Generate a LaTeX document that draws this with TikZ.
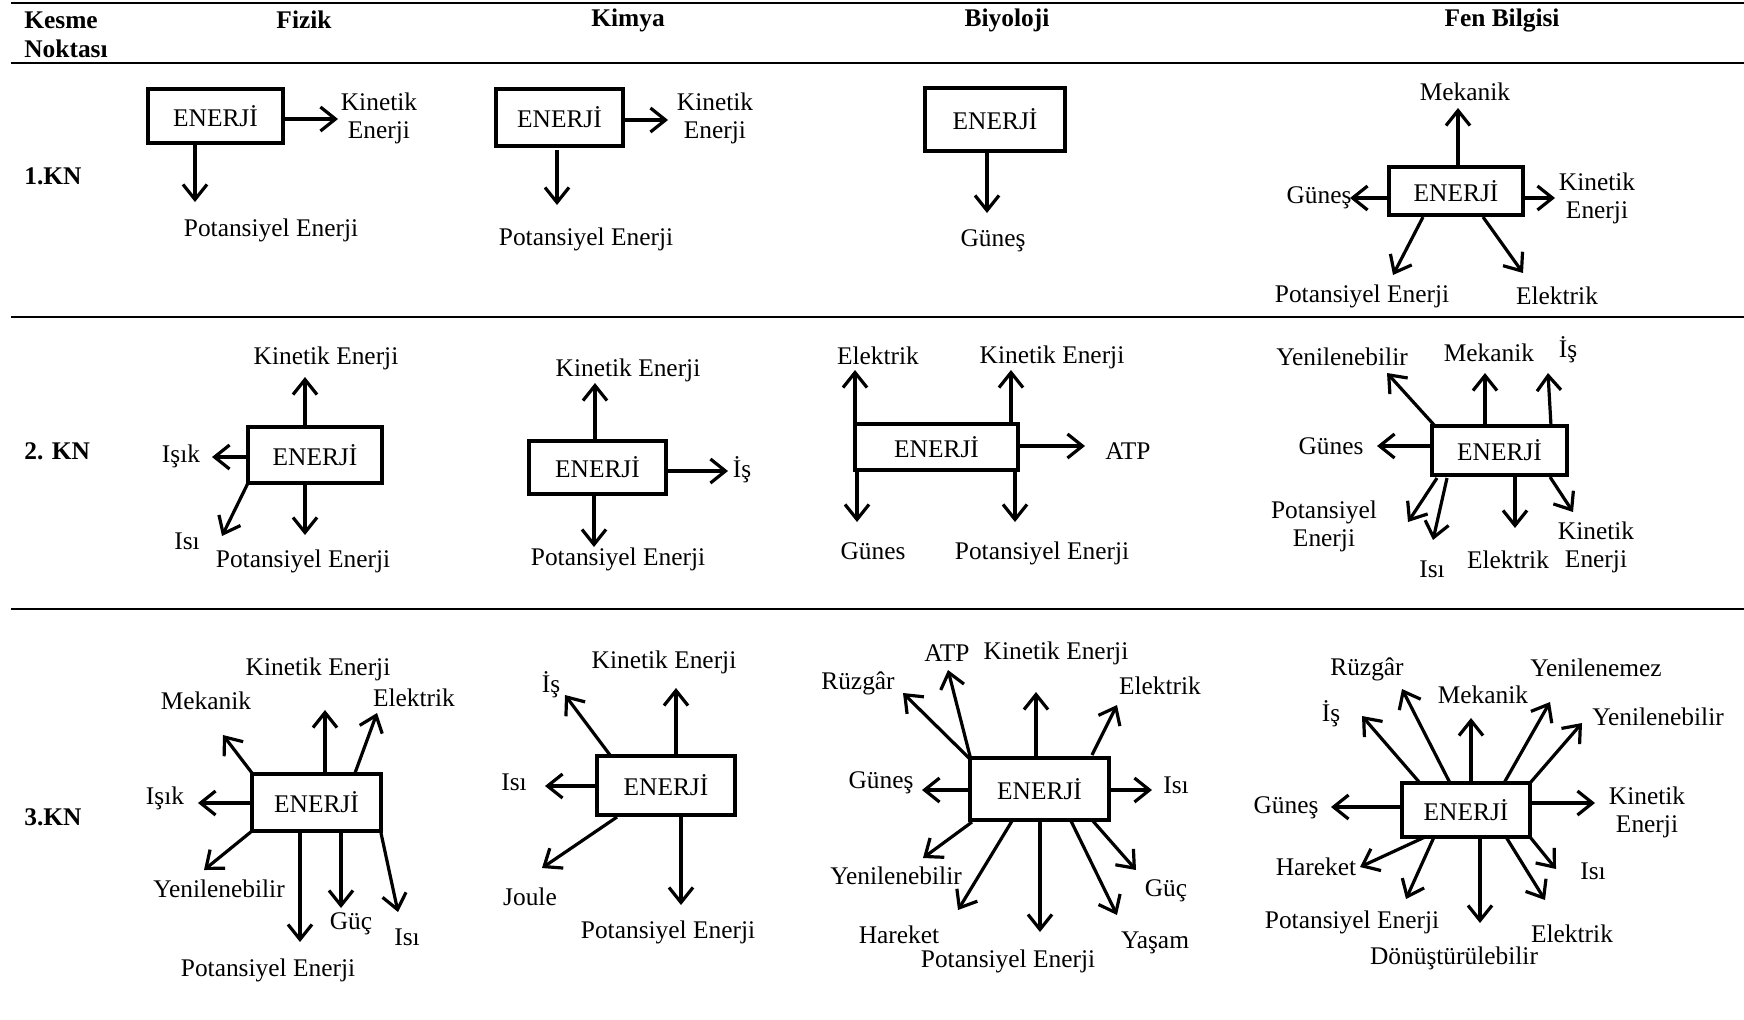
\documentclass[tikz,border=0pt]{standalone}
\usepackage{fontspec}
\setmainfont{Liberation Serif}
\usetikzlibrary{arrows.meta}
\newcommand\AR[3]{\coordinate (#1s) at (#2); \coordinate (#1t) at (#3); \draw[arr] (#1s) -- (#1t);}
\newcommand\EBOX[5]{\node[ebox, minimum width={(#4-#2)*0.5pt}, minimum height={(#5-#3)*0.5pt}] (#1) at ({(#2+#4)/2},{(#3+#5)/2}) {ENERJİ};}
\begin{document}
\begin{tikzpicture}[x=0.5pt,y=-0.5pt,
  every node/.style={font=\fontsize{12.7pt}{14pt}\selectfont, inner sep=1pt},
  lbl/.style={align=center},
  hdr/.style={font=\fontsize{12.7pt}{14pt}\selectfont\bfseries},
  ebox/.style={draw, line width=1.6pt, inner sep=0pt},
  arr/.style={line width=1.6pt, -{Straight Barb[length=7.5pt,width=12pt]}},
  rule/.style={line width=1.3pt},
  thinrule/.style={line width=0.8pt}]
\useasboundingbox (0,0) rectangle (1744,1019);
% rules
\coordinate (r1a) at (11,3); \coordinate (r1b) at (1744,3);
\coordinate (r2a) at (11,63); \coordinate (r2b) at (1744,63);
\coordinate (r3a) at (11,317); \coordinate (r3b) at (1744,317);
\coordinate (r4a) at (11,609); \coordinate (r4b) at (1744,609);
\draw[rule] (r1a) -- (r1b);
\draw[rule] (r2a) -- (r2b);
\draw[rule] (r3a) -- (r3b);
\draw[thinrule] (r4a) -- (r4b);
% header
\node[hdr, anchor=west] (h0a) at (22,20) {Kesme};
\node[hdr, anchor=west] (h0b) at (22,49) {Noktası};
\node[hdr] (h1) at (304,20) {Fizik};
\node[hdr] (h2) at (628,20) {Kimya};
\node[hdr] (h3) at (1007,20) {Biyoloji};
\node[hdr] (h4) at (1502,20) {Fen Bilgisi};
\node[hdr, anchor=west] (k1) at (22,176) {1.KN};
\node[hdr, anchor=west] (k2) at (22,451) {2. KN};
\node[hdr, anchor=west] (k3) at (22,817) {3.KN};

% ===== Row 1 =====
\EBOX{F1}{148}{89}{283}{143}
\AR{f1a}{283,119}{338,119} \node[lbl] (f1la) at (379,118) {Kinetik\\Enerji};
\AR{f1b}{195,143}{195,202} \node[lbl] (f1lb) at (271,230) {Potansiyel Enerji};

\EBOX{K1}{496}{89}{623}{146}
\AR{k1a}{623,120}{668,120} \node[lbl] (k1la) at (715,118) {Kinetik\\Enerji};
\AR{k1b}{557,150}{557,205} \node[lbl] (k1lb) at (586,239) {Potansiyel Enerji};

\EBOX{B1}{925}{88}{1065}{151}
\AR{b1a}{987,151}{987,213} \node[lbl] (b1la) at (993,241) {Güneş};

\EBOX{S1}{1389}{167}{1523}{215}
\AR{s1a}{1458,167}{1458,108} \node[lbl] (s1la) at (1465,92) {Mekanik};
\AR{s1b}{1389,198}{1350,198} \node[lbl] (s1lb) at (1319,198) {Güneş};
\AR{s1c}{1523,198}{1555,198} \node[lbl] (s1lc) at (1597,198) {Kinetik\\Enerji};
\AR{s1d}{1423,217}{1393,275} \node[lbl] (s1ld) at (1362,296) {Potansiyel Enerji};
\AR{s1e}{1483,217}{1523,273} \node[lbl] (s1le) at (1557,296) {Elektrik};

% ===== Row 2 =====
\EBOX{F2}{248}{427}{382}{483}
\AR{f2a}{305,427}{305,377} \node[lbl] (f2la) at (326,358) {Kinetik Enerji};
\AR{f2b}{248,457}{212,457} \node[lbl] (f2lb) at (181,456) {Işık};
\AR{f2c}{248,483}{222,536} \node[lbl] (f2lc) at (187,541) {Isı};
\AR{f2d}{305,483}{305,535} \node[lbl] (f2ld) at (303,561) {Potansiyel Enerji};

\EBOX{K2}{529}{441}{666}{494}
\AR{k2a}{595,441}{595,383} \node[lbl] (k2la) at (628,370) {Kinetik Enerji};
\AR{k2b}{666,471}{728,471} \node[lbl] (k2lb) at (742,470) {İş};
\AR{k2c}{594,494}{594,547} \node[lbl] (k2lc) at (618,559) {Potansiyel Enerji};

\EBOX{B2}{855}{424}{1018}{470}
\AR{b2a}{855,424}{855,370} \node[lbl] (b2la) at (878,356) {Elektrik};
\AR{b2b}{1011,424}{1011,370} \node[lbl] (b2lb) at (1052,357) {Kinetik Enerji};
\AR{b2c}{1018,446}{1085,446} \node[lbl] (b2lc) at (1128,451) {ATP};
\AR{b2d}{857,470}{857,522} \node[lbl] (b2ld) at (873,551) {Günes};
\AR{b2e}{1015,470}{1015,522} \node[lbl] (b2le) at (1042,553) {Potansiyel Enerji};

\EBOX{S2}{1432}{426}{1567}{475}
\AR{s2a}{1435,426}{1387,373} \node[lbl] (s2la) at (1342,357) {Yenilenebilir};
\AR{s2b}{1485,426}{1485,373} \node[lbl] (s2lb) at (1489,353) {Mekanik};
\AR{s2c}{1551,426}{1548,373} \node[lbl] (s2lc) at (1568,350) {İş};
\AR{s2d}{1432,446}{1377,446} \node[lbl] (s2ld) at (1331,446) {Günes};
\AR{s2e}{1437,478}{1408,522} \node[lbl] (s2le) at (1324,526) {Potansiyel\\Enerji};
\AR{s2f}{1447,478}{1433,540} \node[lbl] (s2lf) at (1432,569) {Isı};
\AR{s2g}{1515,475}{1515,528} \node[lbl] (s2lg) at (1508,560) {Elektrik};
\AR{s2h}{1550,477}{1573,512} \node[lbl] (s2lh) at (1596,547) {Kinetik\\Enerji};

% ===== Row 3 =====
\EBOX{F3}{252}{774}{381}{831}
\AR{f3a}{325,774}{325,710} \node[lbl] (f3la) at (318,669) {Kinetik Enerji};
\AR{f3b}{355,773}{377,713} \node[lbl] (f3lb) at (414,698) {Elektrik};
\AR{f3c}{252,773}{223,735} \node[lbl] (f3lc) at (206,701) {Mekanik};
\AR{f3d}{252,803}{198,803} \node[lbl] (f3ld) at (165,798) {Işık};
\AR{f3e}{252,831}{204,870} \node[lbl] (f3le) at (219,889) {Yenilenebilir};
\AR{f3f}{300,831}{300,942} \node[lbl] (f3lf) at (268,970) {Potansiyel Enerji};
\AR{f3g}{341,831}{341,908} \node[lbl] (f3lg) at (351,924) {Güç};
\AR{f3h}{381,833}{398,912} \node[lbl] (f3lh) at (407,937) {Isı};

\EBOX{K3}{597}{756}{735}{815}
\AR{k3a}{676,756}{676,688} \node[lbl] (k3la) at (664,662) {Kinetik Enerji};
\AR{k3b}{610,755}{565,695} \node[lbl] (k3lb) at (551,685) {İş};
\AR{k3c}{597,786}{545,786} \node[lbl] (k3lc) at (514,782) {Isı};
\AR{k3d}{617,817}{542,868} \node[lbl] (k3ld) at (530,897) {Joule};
\AR{k3e}{681,815}{681,905} \node[lbl] (k3le) at (668,932) {Potansiyel Enerji};

\EBOX{B3}{970}{758}{1109}{820}
\AR{b3a}{1036,758}{1036,692} \node[lbl] (b3la) at (1056,653) {Kinetik Enerji};
\AR{b3b}{971,760}{903,693} \node[lbl] (b3lb) at (858,683) {Rüzgâr};
\AR{b3c}{971,760}{948,670} \node[lbl] (b3lc) at (947,653) {ATP};
\AR{b3d}{1092,755}{1117,705} \node[lbl] (b3ld) at (1160,686) {Elektrik};
\AR{b3e}{970,790}{922,790} \node[lbl] (b3le) at (881,783) {Güneş};
\AR{b3f}{1109,790}{1152,790} \node[lbl] (b3lf) at (1176,785) {Isı};
\AR{b3g}{972,822}{923,858} \node[lbl] (b3lg) at (896,876) {Yenilenebilir};
\AR{b3h}{1012,821}{958,910} \node[lbl] (b3lh) at (899,935) {Hareket};
\AR{b3i}{1040,820}{1040,932} \node[lbl] (b3li) at (1008,961) {Potansiyel Enerji};
\AR{b3j}{1071,821}{1117,915} \node[lbl] (b3lj) at (1155,943) {Yaşam};
\AR{b3k}{1092,820}{1136,870} \node[lbl] (b3lk) at (1166,891) {Güç};

\EBOX{S3}{1402}{783}{1530}{837}
\AR{s3a}{1402,807}{1331,807} \node[lbl] (s3la) at (1286,808) {Güneş};
\AR{s3b}{1530,803}{1595,803} \node[lbl] (s3lb) at (1647,812) {Kinetik\\Enerji};
\AR{s3c}{1420,783}{1362,716} \node[lbl] (s3lc) at (1331,714) {İş};
\AR{s3d}{1450,783}{1402,689} \node[lbl] (s3ld) at (1367,669) {Rüzgâr};
\AR{s3e}{1471,783}{1471,718} \node[lbl] (s3le) at (1483,695) {Mekanik};
\AR{s3f}{1504,783}{1550,702} \node[lbl] (s3lf) at (1596,668) {Yenilenemez};
\AR{s3g}{1530,783}{1582,723} \node[lbl] (s3lg) at (1658,717) {Yenilenebilir};
\AR{s3h}{1425,837}{1360,867} \node[lbl] (s3lh) at (1316,867) {Hareket};
\AR{s3i}{1434,837}{1406,899} \node[lbl] (s3li) at (1352,922) {Potansiyel Enerji};
\AR{s3j}{1480,837}{1480,923} \node[lbl] (s3lj) at (1454,958) {Dönüştürülebilir};
\AR{s3k}{1506,837}{1545,900} \node[lbl] (s3lk) at (1572,934) {Elektrik};
\AR{s3l}{1530,837}{1556,869} \node[lbl] (s3ll) at (1593,871) {Isı};
\end{tikzpicture}
\end{document}
